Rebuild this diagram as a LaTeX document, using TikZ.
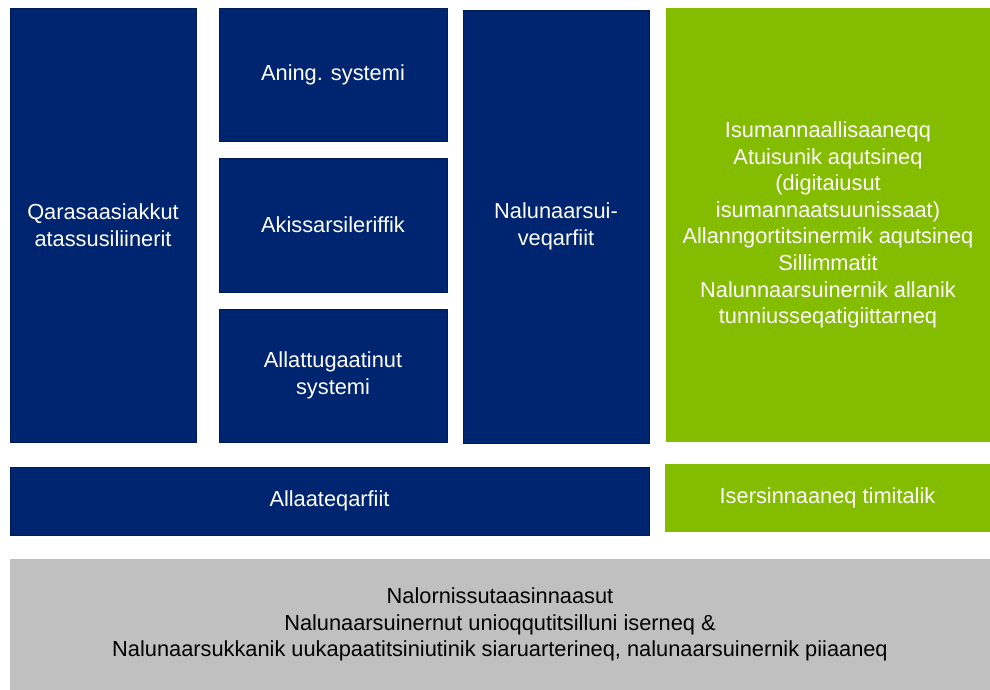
\documentclass[tikz,border=0pt]{standalone}
\usepackage{fontspec}
\setmainfont{Liberation Sans}
\definecolor{navyblue}{HTML}{002570}
\definecolor{navyedge}{HTML}{001C55}
\definecolor{limegreen}{HTML}{84BC00}
\definecolor{lightgray}{HTML}{C0C0C0}

\begin{document}
\begin{tikzpicture}[x=1pt,y=-1pt]
\tikzstyle{bluebox} = [rectangle, draw=navyedge, line width=0.8pt, fill=navyblue, text=white, align=center, inner sep=0pt, font=\fontsize{21.8}{26.6}\selectfont]
\tikzstyle{greenbox} = [rectangle, fill=limegreen, text=white, align=center, inner sep=0pt, font=\fontsize{21.8}{26.6}\selectfont]
\tikzstyle{graybox} = [rectangle, fill=lightgray, text=black, align=center, inner sep=0pt, font=\fontsize{21.8}{26.6}\selectfont]
\useasboundingbox (0,0) rectangle (990,690);
\node (qara) [bluebox, minimum width=186pt, minimum height=434pt] at (103,225) {Qarasaasiakkut\\atassusiliinerit};
\node (aning) [bluebox, minimum width=228pt, minimum height=133pt] at (333,74.5) {Aning. systemi};
\node (akis) [bluebox, minimum width=228pt, minimum height=134pt] at (333,225) {Akissarsileriffik};
\node (allat) [bluebox, minimum width=228pt, minimum height=133pt] at (333,375.5) {Allattugaatinut\\systemi};
\node (nalu) [bluebox, minimum width=186pt, minimum height=433pt] at (556,226.5) {Nalunaarsui-\\veqarfiit};
\node (isum) [greenbox, minimum width=324pt, minimum height=434pt] at (828,225) {Isumannaallisaaneqq\\Atuisunik aqutsineq\\(digitaiusut\\isumannaatsuunissaat)\\Allanngortitsinermik aqutsineq\\Sillimmatit\\Nalunnaarsuinernik allanik\\tunniusseqatigiittarneq};
\node (allaat) [bluebox, minimum width=639pt, minimum height=68pt] at (329.5,501) {Allaateqarfiit};
\node (isers) [greenbox, minimum width=325pt, minimum height=68pt] at (827.5,498) {Isersinnaaneq timitalik};
\node (nalor) [graybox, minimum width=980pt, minimum height=131pt] at (500,624.5) {Nalornissutaasinnaasut\\Nalunaarsuinernut unioqqutitsilluni iserneq \&\\Nalunaarsukkanik uukapaatitsiniutinik siaruarterineq, nalunaarsuinernik piiaaneq};
\end{tikzpicture}
\end{document}
